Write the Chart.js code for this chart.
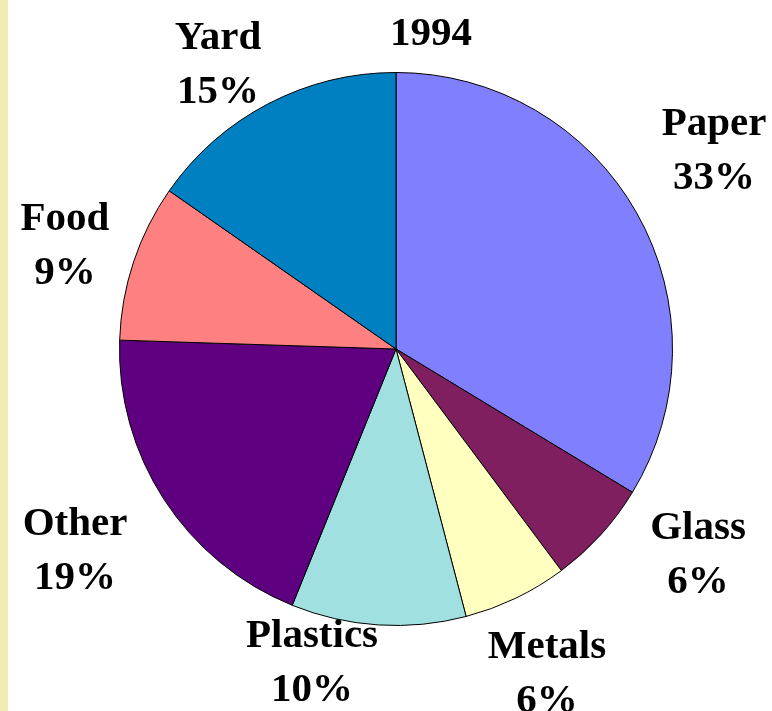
<!DOCTYPE html>
<html>
<head>
<meta charset="utf-8">
<title>1994</title>
<script src="https://cdn.jsdelivr.net/npm/chart.js@4.4.1/dist/chart.umd.min.js"></script>
<style>
  html, body { margin: 0; padding: 0; background: #ffffff; }
  #wrap { position: relative; width: 772px; height: 711px; overflow: hidden; }
  #edge { position: absolute; left: 0; top: 0; width: 8px; height: 711px; background: #efecb3; }
  canvas { position: absolute; left: 0; top: 0; }
</style>
</head>
<body>
<div id="wrap">
  <div id="edge"></div>
  <canvas id="pieChart" width="772" height="711"></canvas>
</div>
<script>
/* Composition of waste by material, 1994 - pie chart with outside labels */

const year = '1994';
const materials = ['Paper', 'Glass', 'Metals', 'Plastics', 'Other', 'Food', 'Yard'];   // slice names, clockwise from 12 o'clock
const shares = [33, 6, 6, 10, 19, 9, 15];                                               // percent of total
const sliceColors = ['#8080ff', '#7f1f5f', '#ffffc0', '#a0e0e0', '#5f0080', '#ff8080', '#0080c0'];

// where each label sits, measured from the pie centre: [text centre x, first baseline y]
const labelSpots = [
    [318, -214],    // Paper
    [302, 190],     // Glass
    [151, 309],     // Metals
    [-84, 298],     // Plastics
    [-321, 186],    // Other
    [-331, -119],   // Food
    [-178, -300]    // Yard
];
const titleSpot = [35, -304];
const lineGap = 54;
const labelFont = 'bold 41px "Liberation Serif", "Times New Roman", serif';

// draws the name + percent next to every slice, and the year on top
const outsideLabels = {
    id: 'outsideLabels',
    afterDatasetsDraw(chart) {
        const ctx = chart.ctx;
        const arcs = chart.getDatasetMeta(0).data;
        const cx = arcs[0].x;
        const cy = arcs[0].y;

        ctx.save();
        ctx.font = labelFont;
        ctx.fillStyle = '#000000';
        ctx.textAlign = 'center';
        ctx.textBaseline = 'alphabetic';

        materials.forEach((name, i) => {
            const x = cx + labelSpots[i][0];
            const y = cy + labelSpots[i][1];
            ctx.fillText(name, x, y);
            ctx.fillText(shares[i] + '%', x, y + lineGap);
        });

        ctx.fillText(year, cx + titleSpot[0], cy + titleSpot[1]);
        ctx.restore();
    }
};

const pieChart = document.getElementById('pieChart');

const myChart = new Chart(pieChart, {
    type: 'pie',
    data: {
        labels: materials,
        datasets: [
            {
                data: shares,
                backgroundColor: sliceColors,
                borderColor: '#000000',
                borderWidth: 1
            }
        ]
    },
    options: {
        responsive: false,
        animation: false,
        layout: {
            padding: {
                left: 119,
                right: 99,
                top: 72,
                bottom: 85
            }
        },
        plugins: {
            legend: { display: false },
            tooltip: { enabled: false },
            title: { display: false }
        }
    },
    plugins: [outsideLabels]
});
</script>
</body>
</html>
